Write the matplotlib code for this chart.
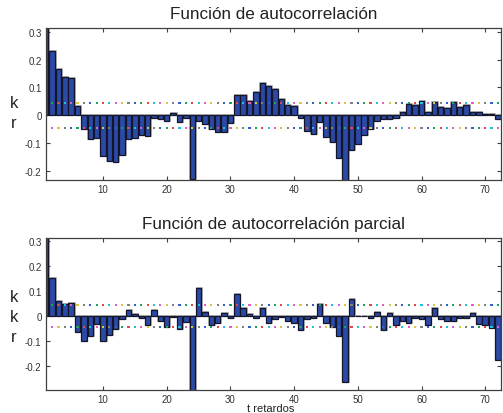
# Gráfico de FAC y FACP
import numpy as np
import matplotlib.pyplot as plt

plt.rcParams['font.family'] = ['Liberation Sans', 'DejaVu Sans']

# datos
lags = np.arange(1, 73)
fac = [0.33, 0.230, 0.165, 0.139, 0.133, 0.033, -0.048, -0.085, -0.081, -0.146,
       -0.162, -0.168, -0.141, -0.085, -0.080, -0.069, -0.074, -0.010, -0.014, -0.020,
       0.010, -0.024, -0.008, -0.230, -0.022, -0.032, -0.049, -0.061, -0.061, -0.027,
       0.073, 0.073, 0.051, 0.082, 0.115, 0.105, 0.094, 0.060, 0.038, 0.032,
       -0.010, -0.057, -0.067, -0.023, -0.079, -0.096, -0.152, -0.25, -0.125, -0.102,
       -0.069, -0.048, -0.019, -0.012, -0.012, -0.008, 0.013, 0.042, 0.036, 0.053,
       0.013, 0.048, 0.031, 0.025, 0.047, 0.031, 0.036, 0.013, 0.013, 0.004,
       0.004, -0.014]
facp = [0.32, 0.152, 0.060, 0.048, 0.054, -0.062, -0.100, -0.080, -0.032, -0.099,
        -0.074, -0.050, -0.012, 0.024, 0.008, -0.007, -0.037, 0.024, -0.019, -0.044,
        -0.002, -0.050, -0.024, -0.31, 0.111, 0.018, -0.037, -0.026, 0.012, -0.008,
        0.090, 0.032, 0.008, -0.008, 0.032, -0.026, -0.013, -0.002, -0.019, -0.026,
        -0.057, -0.013, -0.007, 0.050, -0.026, -0.045, -0.080, -0.266, 0.067, 0.001,
        0.001, -0.008, 0.018, -0.056, 0.012, -0.037, -0.019, -0.026, -0.008, -0.013,
        -0.037, 0.032, -0.013, -0.019, -0.019, -0.008, -0.008, 0.012, -0.031, -0.037,
        -0.049, -0.178]
conf = 0.044
yticks = [-0.2, -0.1, 0, 0.1, 0.2, 0.3]
ytick_labels = ['-0.2', '-0.1', '0', '0.1', '0.2', '0.3']
xticks = [10, 20, 30, 40, 50, 60, 70]

dot_colors = ['#2f5fc8', '#1fa060', '#e04848', '#20c0e0', '#e060c0', '#d8c840', '#808080']

fig = plt.figure(figsize=(5.03, 4.14), dpi=100)
ax1 = fig.add_axes([0.0909, 0.562, 0.906, 0.368])
ax2 = fig.add_axes([0.0909, 0.0556, 0.906, 0.367])


def dibujar(ax, vals, ylim, titulo):
    # sombra gris y barra azul
    ax.bar(lags + 0.12, vals, width=0.85, color='#a8a8a8', edgecolor='#a8a8a8',
           linewidth=1.2, zorder=1)
    ax.bar(lags, vals, width=0.85, color='#2b4aa6', edgecolor='#15152a',
           linewidth=0.9, zorder=2)
    # bandas de confianza con puntos de colores
    xs = np.arange(2, 73)
    cu = [dot_colors[(i - 1) % 7] for i in xs]
    cl = [dot_colors[(i + 2) % 7] for i in xs]
    ax.scatter(xs, np.full(len(xs), conf), s=2.4, marker='s', c=cu, linewidths=0, zorder=3)
    ax.scatter(xs, np.full(len(xs), -conf), s=2.4, marker='s', c=cl, linewidths=0, zorder=3)
    ax.set_xlim(1, 72.55)
    ax.set_ylim(*ylim)
    ax.set_xticks(xticks)
    ax.set_xticklabels([str(t) for t in xticks])
    ax.set_yticks(yticks)
    ax.set_yticklabels(ytick_labels)
    ax.tick_params(direction='in', top=True, right=True, length=3, width=0.8,
                   labelsize=7, labelcolor='#333333', color='#404040', pad=3)
    for s in ax.spines.values():
        s.set_color('#404040')
        s.set_linewidth(0.9)
    ax.set_title(titulo, fontsize=12.3, color='#222222', pad=7)


dibujar(ax1, fac, (-0.233, 0.313), 'Función de autocorrelación')
dibujar(ax2, facp, (-0.296, 0.312), 'Función de autocorrelación parcial')

# etiquetas del eje y
fig.text(0.027, 1 - 103 / 414, 'k', fontsize=12, ha='center', va='center', color='#222222')
fig.text(0.027, 1 - 124 / 414, 'r', fontsize=12, ha='center', va='center', color='#222222')
fig.text(0.027, 1 - 298 / 414, 'k', fontsize=12, ha='center', va='center', color='#222222')
fig.text(0.027, 1 - 318 / 414, 'k', fontsize=12, ha='center', va='center', color='#222222')
fig.text(0.027, 1 - 338 / 414, 'r', fontsize=12, ha='center', va='center', color='#222222')

fig.text(271 / 503, 1 - 409.5 / 414, 't retardos', fontsize=8, ha='center', va='center',
         color='#222222')

plt.savefig('out.png', dpi=100)
